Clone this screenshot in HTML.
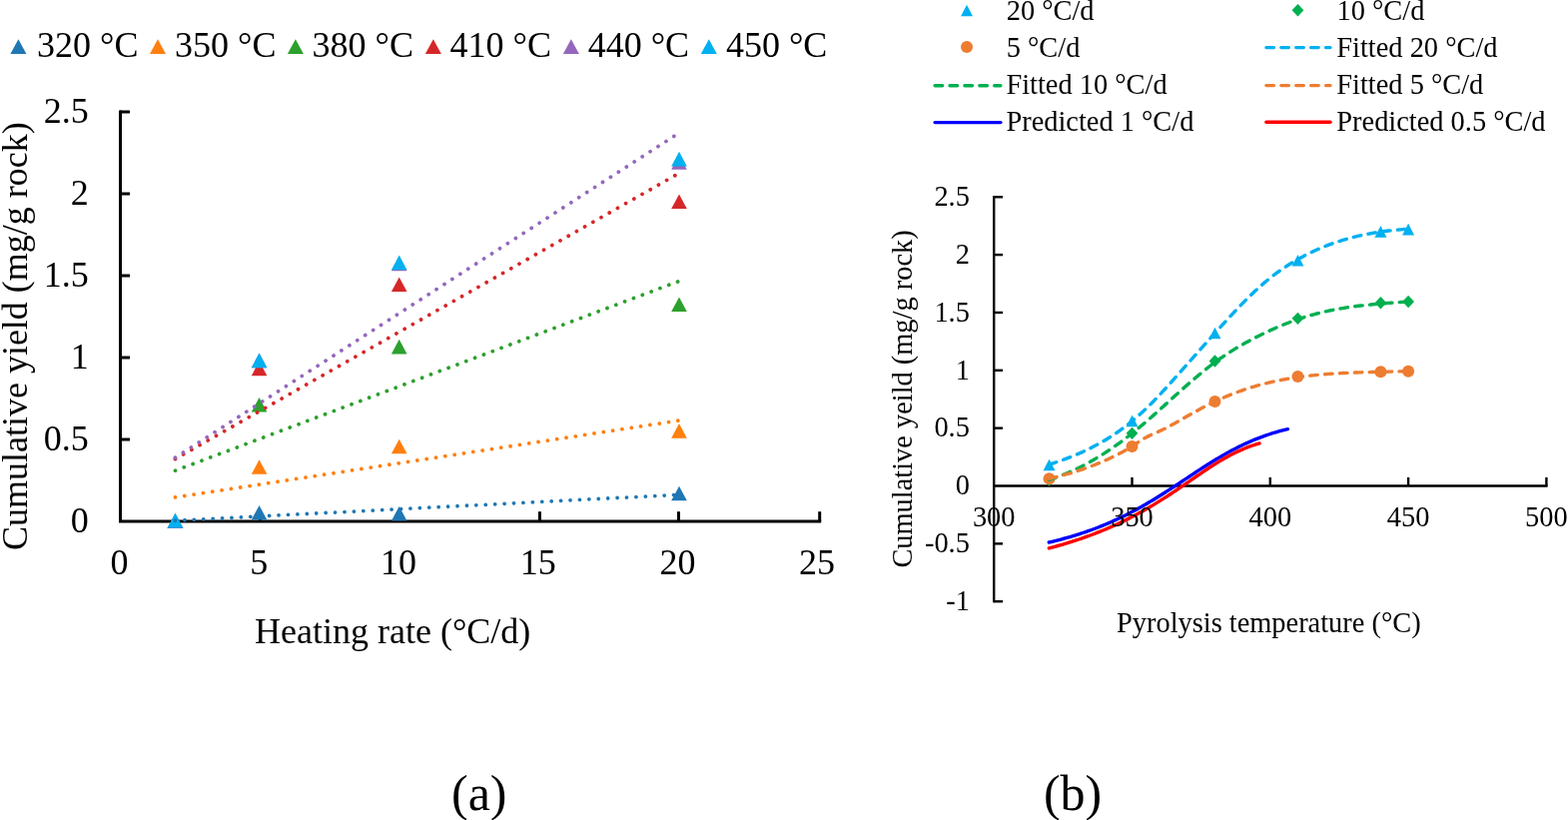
<!DOCTYPE html><html><head><meta charset="utf-8"><style>html,body{margin:0;padding:0;background:#fff;width:1570px;height:821px;overflow:hidden}svg{display:block}text{font-family:"Liberation Serif","Times New Roman",serif;fill:#000}</style></head><body>
<svg width="1570" height="821" viewBox="0 0 1570 821">
<g stroke="#000" stroke-width="3" fill="none" stroke-linecap="butt">
<path d="M120.5,110.5 V523.5 M119,522 H822.2"/>
<path d="M120.5,440 H130"/>
<path d="M120.5,358 H130"/>
<path d="M120.5,276 H130"/>
<path d="M120.5,194 H130"/>
<path d="M120.5,112 H130"/>
<path d="M260.5,522 V512.2"/>
<path d="M400.3,522 V512.2"/>
<path d="M540.4,522 V512.2"/>
<path d="M679.5,522 V512.2"/>
<path d="M820.7,522 V512.2"/>
</g>
<path d="M175.46,514.5 L183.26,529.1 L167.66,529.1 Z" fill="#1f77b4"/>
<path d="M259.55,505.98 L267.35,520.58 L251.75,520.58 Z" fill="#1f77b4"/>
<path d="M399.7,506.96 L407.5,521.56 L391.9,521.56 Z" fill="#1f77b4"/>
<path d="M680,486.64 L687.8,501.24 L672.2,501.24 Z" fill="#1f77b4"/>
<path d="M175.46,514.5 L183.26,529.1 L167.66,529.1 Z" fill="#ff7f0e"/>
<path d="M259.55,460.25 L267.35,474.85 L251.75,474.85 Z" fill="#ff7f0e"/>
<path d="M399.7,439.76 L407.5,454.36 L391.9,454.36 Z" fill="#ff7f0e"/>
<path d="M680,424.03 L687.8,438.63 L672.2,438.63 Z" fill="#ff7f0e"/>
<path d="M175.46,514.5 L183.26,529.1 L167.66,529.1 Z" fill="#2ca02c"/>
<path d="M259.55,397.97 L267.35,412.57 L251.75,412.57 Z" fill="#2ca02c"/>
<path d="M399.7,339.78 L407.5,354.38 L391.9,354.38 Z" fill="#2ca02c"/>
<path d="M680,297.5 L687.8,312.1 L672.2,312.1 Z" fill="#2ca02c"/>
<path d="M175.46,514.5 L183.26,529.1 L167.66,529.1 Z" fill="#d62728"/>
<path d="M259.55,361.58 L267.35,376.18 L251.75,376.18 Z" fill="#d62728"/>
<path d="M399.7,277.5 L407.5,292.1 L391.9,292.1 Z" fill="#d62728"/>
<path d="M680,194.4 L687.8,209 L672.2,209 Z" fill="#d62728"/>
<path d="M175.46,514.5 L183.26,529.1 L167.66,529.1 Z" fill="#9467bd"/>
<path d="M259.55,353.55 L267.35,368.15 L251.75,368.15 Z" fill="#9467bd"/>
<path d="M399.7,256.69 L407.5,271.29 L391.9,271.29 Z" fill="#9467bd"/>
<path d="M680,155.07 L687.8,169.67 L672.2,169.67 Z" fill="#9467bd"/>
<path d="M175.46,513.84 L183.26,528.44 L167.66,528.44 Z" fill="#00b0f0"/>
<path d="M259.55,353.55 L267.35,368.15 L251.75,368.15 Z" fill="#00b0f0"/>
<path d="M399.7,255.54 L407.5,270.14 L391.9,270.14 Z" fill="#00b0f0"/>
<path d="M680,151.79 L687.8,166.39 L672.2,166.39 Z" fill="#00b0f0"/>
<path d="M175.46,521.26 L680,495.34" stroke="#1f77b4" stroke-width="3.8" stroke-linecap="round" stroke-dasharray="0.01 9.42" fill="none"/>
<path d="M175.46,497.92 L680,420.99" stroke="#ff7f0e" stroke-width="3.8" stroke-linecap="round" stroke-dasharray="0.01 9.42" fill="none"/>
<path d="M175.46,471.16 L680,281.42" stroke="#2ca02c" stroke-width="3.8" stroke-linecap="round" stroke-dasharray="0.01 9.42" fill="none"/>
<path d="M175.46,459.55 L680,173.4" stroke="#d62728" stroke-width="3.8" stroke-linecap="round" stroke-dasharray="0.01 9.42" fill="none"/>
<path d="M175.46,458.21 L680,133.08" stroke="#9467bd" stroke-width="3.8" stroke-linecap="round" stroke-dasharray="0.01 9.42" fill="none"/>
<g font-size="36" text-anchor="end">
<text x="88.8" y="532.7">0</text>
<text x="88.8" y="450.7">0.5</text>
<text x="88.8" y="368.7">1</text>
<text x="88.8" y="286.7">1.5</text>
<text x="88.8" y="204.7">2</text>
<text x="88.8" y="122.7">2.5</text>
</g><g font-size="36" text-anchor="middle">
<text x="119.6" y="575">0</text>
<text x="259.3" y="575">5</text>
<text x="399" y="575">10</text>
<text x="538.7" y="575">15</text>
<text x="678.4" y="575">20</text>
<text x="818.1" y="575">25</text>
</g>
<text x="255" y="643.8" font-size="36">Heating rate (°C/d)</text>
<text transform="translate(26.5,551.1) rotate(-90)" font-size="36">Cumulative yield (mg/g rock)</text>
<path d="M18.4,39.2 L26.4,53.9 L10.4,53.9 Z" fill="#1f77b4"/>
<text x="37.1" y="56.6" font-size="36">320 °C</text>
<path d="M158,39.2 L166,53.9 L150,53.9 Z" fill="#ff7f0e"/>
<text x="175.05" y="56.6" font-size="36">350 °C</text>
<path d="M295.9,39.2 L303.9,53.9 L287.9,53.9 Z" fill="#2ca02c"/>
<text x="312.6" y="56.6" font-size="36">380 °C</text>
<path d="M433.85,39.2 L441.85,53.9 L425.85,53.9 Z" fill="#d62728"/>
<text x="450.5" y="56.6" font-size="36">410 °C</text>
<path d="M571.85,39.2 L579.85,53.9 L563.85,53.9 Z" fill="#9467bd"/>
<text x="588.7" y="56.6" font-size="36">440 °C</text>
<path d="M709.8,39.2 L717.8,53.9 L701.8,53.9 Z" fill="#00b0f0"/>
<text x="726.9" y="56.6" font-size="36">450 °C</text>
<g stroke="#000" stroke-width="2.4" fill="none">
<path d="M995.2,196.1 V603.2 M994,486.5 H1549.6"/>
<path d="M995.2,197.25 H1004"/>
<path d="M995.2,255.1 H1004"/>
<path d="M995.2,312.95 H1004"/>
<path d="M995.2,370.8 H1004"/>
<path d="M995.2,428.65 H1004"/>
<path d="M995.2,544.35 H1004"/>
<path d="M995.2,602.2 H1004"/>
<path d="M1133.5,486.5 V477.9"/>
<path d="M1271.8,486.5 V477.9"/>
<path d="M1410.1,486.5 V477.9"/>
<path d="M1548.4,486.5 V477.9"/>
</g>
<path d="M1050.52,459.76 L1056.52,471.36 L1044.52,471.36 Z" fill="#00b0f0"/>
<path d="M1133.5,415.56 L1139.5,427.16 L1127.5,427.16 Z" fill="#00b0f0"/>
<path d="M1216.48,327.74 L1222.48,339.34 L1210.48,339.34 Z" fill="#00b0f0"/>
<path d="M1299.46,254.97 L1305.46,266.57 L1293.46,266.57 Z" fill="#00b0f0"/>
<path d="M1382.44,226.04 L1388.44,237.64 L1376.44,237.64 Z" fill="#00b0f0"/>
<path d="M1410.1,223.85 L1416.1,235.45 L1404.1,235.45 Z" fill="#00b0f0"/>
<path d="M1050.52,474.28 L1056.42,480.48 L1050.52,486.68 L1044.62,480.48 Z" fill="#00b050"/>
<path d="M1133.5,427.66 L1139.4,433.86 L1133.5,440.06 L1127.6,433.86 Z" fill="#00b050"/>
<path d="M1216.48,355.34 L1222.38,361.54 L1216.48,367.74 L1210.58,361.54 Z" fill="#00b050"/>
<path d="M1299.46,312.65 L1305.36,318.85 L1299.46,325.05 L1293.56,318.85 Z" fill="#00b050"/>
<path d="M1382.44,297.03 L1388.34,303.23 L1382.44,309.43 L1376.54,303.23 Z" fill="#00b050"/>
<path d="M1410.1,295.76 L1416,301.96 L1410.1,308.16 L1404.2,301.96 Z" fill="#00b050"/>
<circle cx="1050.52" cy="479.21" r="6" fill="#ed7d31"/>
<circle cx="1133.5" cy="447.05" r="6" fill="#ed7d31"/>
<circle cx="1216.48" cy="402.04" r="6" fill="#ed7d31"/>
<circle cx="1299.46" cy="377.05" r="6" fill="#ed7d31"/>
<circle cx="1382.44" cy="372.19" r="6" fill="#ed7d31"/>
<circle cx="1410.1" cy="371.84" r="6" fill="#ed7d31"/>
<path d="M1050.5,465.13 L1052.5,464.49 L1054.5,463.84 L1056.5,463.17 L1058.5,462.5 L1060.5,461.81 L1062.5,461.1 L1064.5,460.38 L1066.5,459.65 L1068.5,458.9 L1070.5,458.13 L1072.5,457.34 L1074.5,456.54 L1076.5,455.71 L1078.5,454.87 L1080.5,454.01 L1082.5,453.13 L1084.5,452.22 L1086.5,451.3 L1088.5,450.35 L1090.5,449.38 L1092.5,448.38 L1094.5,447.36 L1096.5,446.31 L1098.5,445.24 L1100.5,444.15 L1102.5,443.02 L1104.5,441.87 L1106.5,440.69 L1108.5,439.48 L1110.5,438.24 L1112.5,436.97 L1114.5,435.66 L1116.5,434.33 L1118.5,432.97 L1120.5,431.57 L1122.5,430.14 L1124.5,428.67 L1126.5,427.17 L1128.5,425.64 L1130.5,424.06 L1132.5,422.45 L1134.5,420.81 L1136.5,419.12 L1138.5,417.4 L1140.5,415.64 L1142.5,413.84 L1144.5,411.99 L1146.5,410.11 L1148.5,408.19 L1150.5,406.23 L1152.5,404.24 L1154.5,402.22 L1156.5,400.16 L1158.5,398.08 L1160.5,395.97 L1162.5,393.84 L1164.5,391.69 L1166.5,389.52 L1168.5,387.33 L1170.5,385.12 L1172.5,382.9 L1174.5,380.67 L1176.5,378.43 L1178.5,376.18 L1180.5,373.93 L1182.5,371.68 L1184.5,369.42 L1186.5,367.16 L1188.5,364.91 L1190.5,362.65 L1192.5,360.4 L1194.5,358.15 L1196.5,355.9 L1198.5,353.65 L1200.5,351.4 L1202.5,349.15 L1204.5,346.91 L1206.5,344.67 L1208.5,342.44 L1210.5,340.21 L1212.5,337.98 L1214.5,335.76 L1216.5,333.54 L1218.5,331.33 L1220.5,329.12 L1222.5,326.91 L1224.5,324.72 L1226.5,322.53 L1228.5,320.34 L1230.5,318.17 L1232.5,316.01 L1234.5,313.86 L1236.5,311.73 L1238.5,309.61 L1240.5,307.52 L1242.5,305.44 L1244.5,303.38 L1246.5,301.35 L1248.5,299.34 L1250.5,297.36 L1252.5,295.41 L1254.5,293.48 L1256.5,291.59 L1258.5,289.73 L1260.5,287.91 L1262.5,286.12 L1264.5,284.37 L1266.5,282.66 L1268.5,280.99 L1270.5,279.36 L1272.5,277.76 L1274.5,276.2 L1276.5,274.68 L1278.5,273.2 L1280.5,271.75 L1282.5,270.33 L1284.5,268.95 L1286.5,267.6 L1288.5,266.29 L1290.5,265.01 L1292.5,263.75 L1294.5,262.53 L1296.5,261.34 L1298.5,260.18 L1300.5,259.05 L1302.5,257.95 L1304.5,256.88 L1306.5,255.83 L1308.5,254.81 L1310.5,253.81 L1312.5,252.84 L1314.5,251.89 L1316.5,250.97 L1318.5,250.07 L1320.5,249.2 L1322.5,248.35 L1324.5,247.52 L1326.5,246.71 L1328.5,245.93 L1330.5,245.17 L1332.5,244.43 L1334.5,243.71 L1336.5,243.02 L1338.5,242.34 L1340.5,241.68 L1342.5,241.05 L1344.5,240.43 L1346.5,239.84 L1348.5,239.26 L1350.5,238.7 L1352.5,238.16 L1354.5,237.64 L1356.5,237.14 L1358.5,236.65 L1360.5,236.18 L1362.5,235.73 L1364.5,235.3 L1366.5,234.88 L1368.5,234.48 L1370.5,234.09 L1372.5,233.72 L1374.5,233.37 L1376.5,233.03 L1378.5,232.7 L1380.5,232.39 L1382.5,232.09 L1384.5,231.81 L1386.5,231.54 L1388.5,231.28 L1390.5,231.04 L1392.5,230.81 L1394.5,230.59 L1396.5,230.38 L1398.5,230.18 L1400.5,230 L1402.5,229.82 L1404.5,229.66 L1406.5,229.5 L1408.5,229.36 L1410.2,229.25" stroke="#00b0f0" stroke-width="3.4" stroke-linecap="round" stroke-linejoin="round" stroke-dasharray="7.6 7.3" fill="none"/>
<path d="M1050.5,480.33 L1052.5,479.69 L1054.5,479.03 L1056.5,478.34 L1058.5,477.63 L1060.5,476.89 L1062.5,476.13 L1064.5,475.34 L1066.5,474.53 L1068.5,473.7 L1070.5,472.84 L1072.5,471.96 L1074.5,471.05 L1076.5,470.12 L1078.5,469.17 L1080.5,468.19 L1082.5,467.19 L1084.5,466.16 L1086.5,465.11 L1088.5,464.04 L1090.5,462.95 L1092.5,461.83 L1094.5,460.68 L1096.5,459.52 L1098.5,458.33 L1100.5,457.12 L1102.5,455.89 L1104.5,454.63 L1106.5,453.35 L1108.5,452.05 L1110.5,450.72 L1112.5,449.37 L1114.5,448 L1116.5,446.61 L1118.5,445.2 L1120.5,443.76 L1122.5,442.3 L1124.5,440.82 L1126.5,439.32 L1128.5,437.8 L1130.5,436.25 L1132.5,434.69 L1134.5,433.1 L1136.5,431.49 L1138.5,429.85 L1140.5,428.2 L1142.5,426.53 L1144.5,424.84 L1146.5,423.13 L1148.5,421.4 L1150.5,419.66 L1152.5,417.91 L1154.5,416.14 L1156.5,414.37 L1158.5,412.58 L1160.5,410.79 L1162.5,408.99 L1164.5,407.19 L1166.5,405.38 L1168.5,403.56 L1170.5,401.75 L1172.5,399.94 L1174.5,398.13 L1176.5,396.32 L1178.5,394.52 L1180.5,392.72 L1182.5,390.93 L1184.5,389.14 L1186.5,387.37 L1188.5,385.61 L1190.5,383.86 L1192.5,382.12 L1194.5,380.4 L1196.5,378.69 L1198.5,377 L1200.5,375.33 L1202.5,373.67 L1204.5,372.04 L1206.5,370.43 L1208.5,368.84 L1210.5,367.28 L1212.5,365.74 L1214.5,364.23 L1216.5,362.74 L1218.5,361.29 L1220.5,359.86 L1222.5,358.46 L1224.5,357.09 L1226.5,355.74 L1228.5,354.42 L1230.5,353.12 L1232.5,351.85 L1234.5,350.6 L1236.5,349.38 L1238.5,348.18 L1240.5,347 L1242.5,345.84 L1244.5,344.7 L1246.5,343.58 L1248.5,342.47 L1250.5,341.39 L1252.5,340.32 L1254.5,339.28 L1256.5,338.24 L1258.5,337.23 L1260.5,336.22 L1262.5,335.23 L1264.5,334.26 L1266.5,333.3 L1268.5,332.36 L1270.5,331.43 L1272.5,330.51 L1274.5,329.61 L1276.5,328.73 L1278.5,327.86 L1280.5,327.01 L1282.5,326.17 L1284.5,325.35 L1286.5,324.54 L1288.5,323.76 L1290.5,322.98 L1292.5,322.23 L1294.5,321.49 L1296.5,320.77 L1298.5,320.06 L1300.5,319.38 L1302.5,318.71 L1304.5,318.05 L1306.5,317.42 L1308.5,316.8 L1310.5,316.2 L1312.5,315.62 L1314.5,315.06 L1316.5,314.52 L1318.5,313.99 L1320.5,313.48 L1322.5,312.99 L1324.5,312.51 L1326.5,312.05 L1328.5,311.61 L1330.5,311.18 L1332.5,310.76 L1334.5,310.36 L1336.5,309.98 L1338.5,309.61 L1340.5,309.25 L1342.5,308.9 L1344.5,308.57 L1346.5,308.24 L1348.5,307.93 L1350.5,307.63 L1352.5,307.35 L1354.5,307.07 L1356.5,306.8 L1358.5,306.54 L1360.5,306.29 L1362.5,306.05 L1364.5,305.82 L1366.5,305.6 L1368.5,305.38 L1370.5,305.18 L1372.5,304.97 L1374.5,304.78 L1376.5,304.59 L1378.5,304.41 L1380.5,304.23 L1382.5,304.06 L1384.5,303.89 L1386.5,303.72 L1388.5,303.56 L1390.5,303.4 L1392.5,303.25 L1394.5,303.1 L1396.5,302.95 L1398.5,302.8 L1400.5,302.65 L1402.5,302.5 L1404.5,302.36 L1406.5,302.21 L1408.5,302.07 L1410.2,301.94" stroke="#00b050" stroke-width="3.4" stroke-linecap="round" stroke-linejoin="round" stroke-dasharray="7.6 7.3" fill="none"/>
<path d="M1050.5,479.27 L1052.5,478.8 L1054.5,478.32 L1056.5,477.83 L1058.5,477.33 L1060.5,476.82 L1062.5,476.3 L1064.5,475.76 L1066.5,475.21 L1068.5,474.65 L1070.5,474.08 L1072.5,473.49 L1074.5,472.89 L1076.5,472.27 L1078.5,471.64 L1080.5,470.99 L1082.5,470.33 L1084.5,469.65 L1086.5,468.96 L1088.5,468.25 L1090.5,467.52 L1092.5,466.78 L1094.5,466.02 L1096.5,465.24 L1098.5,464.45 L1100.5,463.63 L1102.5,462.8 L1104.5,461.94 L1106.5,461.07 L1108.5,460.18 L1110.5,459.27 L1112.5,458.33 L1114.5,457.38 L1116.5,456.4 L1118.5,455.39 L1120.5,454.35 L1122.5,453.29 L1124.5,452.19 L1126.5,451.06 L1128.5,449.9 L1130.5,448.69 L1132.5,447.45 L1134.5,446.17 L1136.5,444.85 L1138.5,443.52 L1140.5,442.19 L1142.5,440.9 L1144.5,439.64 L1146.5,438.46 L1148.5,437.37 L1150.5,436.36 L1152.5,435.42 L1154.5,434.53 L1156.5,433.67 L1158.5,432.81 L1160.5,431.93 L1162.5,431.03 L1164.5,430.08 L1166.5,429.1 L1168.5,428.09 L1170.5,427.04 L1172.5,425.96 L1174.5,424.86 L1176.5,423.73 L1178.5,422.59 L1180.5,421.43 L1182.5,420.27 L1184.5,419.11 L1186.5,417.95 L1188.5,416.81 L1190.5,415.67 L1192.5,414.55 L1194.5,413.43 L1196.5,412.33 L1198.5,411.24 L1200.5,410.16 L1202.5,409.09 L1204.5,408.04 L1206.5,407 L1208.5,405.98 L1210.5,404.97 L1212.5,403.98 L1214.5,403 L1216.5,402.05 L1218.5,401.11 L1220.5,400.18 L1222.5,399.28 L1224.5,398.39 L1226.5,397.52 L1228.5,396.68 L1230.5,395.85 L1232.5,395.04 L1234.5,394.26 L1236.5,393.49 L1238.5,392.74 L1240.5,392.01 L1242.5,391.3 L1244.5,390.6 L1246.5,389.93 L1248.5,389.27 L1250.5,388.63 L1252.5,388 L1254.5,387.4 L1256.5,386.81 L1258.5,386.23 L1260.5,385.68 L1262.5,385.14 L1264.5,384.61 L1266.5,384.1 L1268.5,383.61 L1270.5,383.13 L1272.5,382.66 L1274.5,382.21 L1276.5,381.77 L1278.5,381.35 L1280.5,380.94 L1282.5,380.54 L1284.5,380.16 L1286.5,379.79 L1288.5,379.44 L1290.5,379.09 L1292.5,378.76 L1294.5,378.44 L1296.5,378.13 L1298.5,377.83 L1300.5,377.55 L1302.5,377.27 L1304.5,377 L1306.5,376.75 L1308.5,376.51 L1310.5,376.27 L1312.5,376.05 L1314.5,375.83 L1316.5,375.63 L1318.5,375.43 L1320.5,375.24 L1322.5,375.06 L1324.5,374.89 L1326.5,374.72 L1328.5,374.57 L1330.5,374.42 L1332.5,374.28 L1334.5,374.14 L1336.5,374.01 L1338.5,373.89 L1340.5,373.78 L1342.5,373.67 L1344.5,373.56 L1346.5,373.46 L1348.5,373.37 L1350.5,373.28 L1352.5,373.19 L1354.5,373.11 L1356.5,373.04 L1358.5,372.97 L1360.5,372.9 L1362.5,372.83 L1364.5,372.77 L1366.5,372.71 L1368.5,372.66 L1370.5,372.6 L1372.5,372.55 L1374.5,372.5 L1376.5,372.45 L1378.5,372.4 L1380.5,372.36 L1382.5,372.31 L1384.5,372.27 L1386.5,372.22 L1388.5,372.18 L1390.5,372.13 L1392.5,372.09 L1394.5,372.04 L1396.5,372 L1398.5,371.95 L1400.5,371.9 L1402.5,371.85 L1404.5,371.8 L1406.5,371.74 L1408.5,371.68 L1410.2,371.63" stroke="#ed7d31" stroke-width="3.4" stroke-linecap="round" stroke-linejoin="round" stroke-dasharray="7.6 7.3" fill="none"/>
<path d="M1050.3,543 L1052.3,542.53 L1054.3,542.06 L1056.3,541.57 L1058.3,541.07 L1060.3,540.57 L1062.3,540.05 L1064.3,539.51 L1066.3,538.97 L1068.3,538.42 L1070.3,537.85 L1072.3,537.27 L1074.3,536.67 L1076.3,536.07 L1078.3,535.45 L1080.3,534.82 L1082.3,534.17 L1084.3,533.51 L1086.3,532.84 L1088.3,532.15 L1090.3,531.45 L1092.3,530.73 L1094.3,530 L1096.3,529.25 L1098.3,528.49 L1100.3,527.71 L1102.3,526.92 L1104.3,526.11 L1106.3,525.29 L1108.3,524.45 L1110.3,523.59 L1112.3,522.72 L1114.3,521.83 L1116.3,520.92 L1118.3,520 L1120.3,519.06 L1122.3,518.11 L1124.3,517.14 L1126.3,516.15 L1128.3,515.15 L1130.3,514.13 L1132.3,513.09 L1134.3,512.04 L1136.3,510.97 L1138.3,509.89 L1140.3,508.79 L1142.3,507.67 L1144.3,506.54 L1146.3,505.4 L1148.3,504.24 L1150.3,503.06 L1152.3,501.88 L1154.3,500.68 L1156.3,499.46 L1158.3,498.24 L1160.3,497 L1162.3,495.75 L1164.3,494.49 L1166.3,493.22 L1168.3,491.94 L1170.3,490.65 L1172.3,489.35 L1174.3,488.05 L1176.3,486.74 L1178.3,485.43 L1180.3,484.11 L1182.3,482.79 L1184.3,481.46 L1186.3,480.14 L1188.3,478.81 L1190.3,477.48 L1192.3,476.16 L1194.3,474.84 L1196.3,473.52 L1198.3,472.2 L1200.3,470.9 L1202.3,469.59 L1204.3,468.3 L1206.3,467.01 L1208.3,465.74 L1210.3,464.47 L1212.3,463.22 L1214.3,461.98 L1216.3,460.76 L1218.3,459.54 L1220.3,458.35 L1222.3,457.17 L1224.3,456 L1226.3,454.86 L1228.3,453.73 L1230.3,452.62 L1232.3,451.53 L1234.3,450.47 L1236.3,449.42 L1238.3,448.39 L1240.3,447.39 L1242.3,446.4 L1244.3,445.44 L1246.3,444.5 L1248.3,443.59 L1250.3,442.69 L1252.3,441.82 L1254.3,440.97 L1256.3,440.15 L1258.3,439.35 L1260.3,438.57 L1262.3,437.81 L1264.3,437.07 L1266.3,436.36 L1268.3,435.67 L1270.3,435 L1272.3,434.35 L1274.3,433.72 L1276.3,433.12 L1278.3,432.53 L1280.3,431.96 L1282.3,431.42 L1284.3,430.89 L1286.3,430.38 L1288.3,429.89 L1289.4,429.62" stroke="#0000ff" stroke-width="3.4" stroke-linecap="round" stroke-linejoin="round" fill="none"/>
<path d="M1050.3,548.9 L1052.3,548.37 L1054.3,547.84 L1056.3,547.29 L1058.3,546.74 L1060.3,546.18 L1062.3,545.61 L1064.3,545.02 L1066.3,544.43 L1068.3,543.83 L1070.3,543.22 L1072.3,542.59 L1074.3,541.96 L1076.3,541.31 L1078.3,540.66 L1080.3,539.99 L1082.3,539.31 L1084.3,538.62 L1086.3,537.92 L1088.3,537.21 L1090.3,536.48 L1092.3,535.74 L1094.3,534.99 L1096.3,534.23 L1098.3,533.45 L1100.3,532.66 L1102.3,531.86 L1104.3,531.04 L1106.3,530.21 L1108.3,529.37 L1110.3,528.51 L1112.3,527.64 L1114.3,526.75 L1116.3,525.85 L1118.3,524.93 L1120.3,524 L1122.3,523.06 L1124.3,522.1 L1126.3,521.12 L1128.3,520.13 L1130.3,519.13 L1132.3,518.11 L1134.3,517.07 L1136.3,516.02 L1138.3,514.95 L1140.3,513.87 L1142.3,512.77 L1144.3,511.65 L1146.3,510.52 L1148.3,509.37 L1150.3,508.21 L1152.3,507.04 L1154.3,505.84 L1156.3,504.64 L1158.3,503.42 L1160.3,502.18 L1162.3,500.93 L1164.3,499.66 L1166.3,498.39 L1168.3,497.1 L1170.3,495.8 L1172.3,494.48 L1174.3,493.16 L1176.3,491.82 L1178.3,490.48 L1180.3,489.13 L1182.3,487.77 L1184.3,486.4 L1186.3,485.03 L1188.3,483.66 L1190.3,482.28 L1192.3,480.9 L1194.3,479.52 L1196.3,478.14 L1198.3,476.77 L1200.3,475.4 L1202.3,474.04 L1204.3,472.68 L1206.3,471.34 L1208.3,470 L1210.3,468.68 L1212.3,467.38 L1214.3,466.09 L1216.3,464.82 L1218.3,463.57 L1220.3,462.35 L1222.3,461.14 L1224.3,459.97 L1226.3,458.82 L1228.3,457.69 L1230.3,456.6 L1232.3,455.54 L1234.3,454.5 L1236.3,453.5 L1238.3,452.54 L1240.3,451.6 L1242.3,450.7 L1244.3,449.83 L1246.3,449 L1248.3,448.2 L1250.3,447.44 L1252.3,446.71 L1254.3,446.01 L1256.3,445.34 L1258.3,444.71 L1260.3,444.11 L1261.1,443.88" stroke="#ff0000" stroke-width="3.4" stroke-linecap="round" stroke-linejoin="round" fill="none"/>
<g font-size="28.4" text-anchor="end">
<text x="970.9" y="205.95">2.5</text>
<text x="970.9" y="263.8">2</text>
<text x="970.9" y="321.65">1.5</text>
<text x="970.9" y="379.5">1</text>
<text x="970.9" y="437.35">0.5</text>
<text x="970.9" y="495.2">0</text>
<text x="970.9" y="553.05">-0.5</text>
<text x="970.9" y="610.9">-1</text>
</g><g font-size="28.4" text-anchor="middle">
<text x="995.2" y="527">300</text>
<text x="1133.5" y="527">350</text>
<text x="1271.8" y="527">400</text>
<text x="1410.1" y="527">450</text>
<text x="1548.4" y="527">500</text>
</g>
<text x="1118" y="632.8" font-size="28.4">Pyrolysis temperature (°C)</text>
<text transform="translate(912.5,568.6) rotate(-90)" font-size="28.4">Cumulative yeild (mg/g rock)</text>
<path d="M968,4.75 L973.95,16.25 L962.05,16.25 Z" fill="#00b0f0"/>
<path d="M1299.5,4 L1305.4,10.3 L1299.5,16.6 L1293.6,10.3 Z" fill="#00b050"/>
<circle cx="968" cy="47" r="6" fill="#ed7d31"/>
<path d="M1267.9,47.6 H1332" stroke="#00b0f0" stroke-width="3.4" stroke-linecap="round" stroke-dasharray="7.6 7.3" fill="none"/>
<path d="M936.1,85.7 H1001.9" stroke="#00b050" stroke-width="3.4" stroke-linecap="round" stroke-dasharray="7.6 7.3" fill="none"/>
<path d="M1267.9,85.6 H1332" stroke="#ed7d31" stroke-width="3.4" stroke-linecap="round" stroke-dasharray="7.6 7.3" fill="none"/>
<path d="M936.1,122.6 H1001.9" stroke="#0000ff" stroke-width="3.4" stroke-linecap="round"  fill="none"/>
<path d="M1267.9,122.3 H1332" stroke="#ff0000" stroke-width="3.4" stroke-linecap="round"  fill="none"/>
<g font-size="28.4">
<text x="1007.7" y="20.2">20 °C/d</text>
<text x="1338.5" y="20.4">10 °C/d</text>
<text x="1007.7" y="57.2">5 °C/d</text>
<text x="1338.3" y="57.3">Fitted 20 °C/d</text>
<text x="1007.4" y="94.1">Fitted 10 °C/d</text>
<text x="1338.3" y="94.2">Fitted 5 °C/d</text>
<text x="1007.4" y="130.9">Predicted 1 °C/d</text>
<text x="1338.3" y="131">Predicted 0.5 °C/d</text>
</g>
<text x="452" y="810.8" font-size="50">(a)</text>
<text x="1044.9" y="810.5" font-size="50">(b)</text>
</svg></body></html>
